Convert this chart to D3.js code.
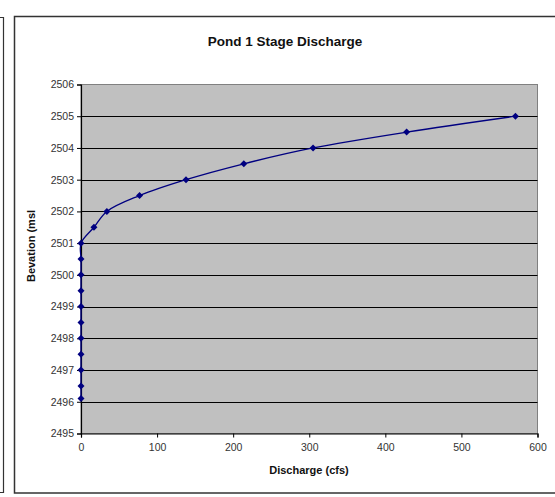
<!DOCTYPE html>
<html><head><meta charset="utf-8">
<script src="https://cdn.jsdelivr.net/npm/d3@7"></script>
<style>
html,body{margin:0;padding:0;background:#fff;}
svg{display:block;}
</style></head>
<body>
<svg id="c" width="555" height="497"></svg>
<script>
const discharge = [0, 0, 0, 0, 0, 0, 0, 0, 0, 0, 0, 17, 34, 77, 138, 214, 305, 428, 571];
const elevation = [2496.1, 2496.5, 2497, 2497.5, 2498, 2498.5, 2499, 2499.5, 2500, 2500.5, 2501, 2501.5, 2502, 2502.5, 2503, 2503.5, 2504, 2504.5, 2505];
const xTicks = [0, 100, 200, 300, 400, 500, 600];
const yTicks = [2495, 2496, 2497, 2498, 2499, 2500, 2501, 2502, 2503, 2504, 2505, 2506];
const title = "Pond 1 Stage Discharge";
const xTitle = "Discharge (cfs)";
const yTitle = "Bevation (msl";

const svg = d3.select("#c");
const font = "Arial, 'Liberation Sans', sans-serif";

// outer frames
svg.append("path").attr("d","M0,17.5H3.5V492.5H0").attr("fill","none").attr("stroke","#333").attr("stroke-width",1.2);
svg.append("rect").attr("x",14.5).attr("y",16.5).attr("width",545).attr("height",476.5)
  .attr("fill","#fff").attr("stroke","#333").attr("stroke-width",1.5);

const L=81, R=537.5, T=84.5, B=433.5;
const x = d3.scaleLinear().domain([0,600]).range([L,R]);
const y = d3.scaleLinear().domain([2495,2506]).range([B,T]);

svg.append("rect").attr("x",L).attr("y",T).attr("width",R-L).attr("height",B-T)
  .attr("fill","#c0c0c0").attr("stroke","#808080").attr("stroke-width",1);

// gridlines
svg.append("g").selectAll("line").data(yTicks.slice(1,-1)).join("line")
  .attr("x1",L).attr("x2",R).attr("y1",d=>Math.round(y(d))+0.5).attr("y2",d=>Math.round(y(d))+0.5)
  .attr("stroke","#000").attr("stroke-width",1);

// axes
const yAxis = svg.append("g").attr("transform",`translate(${L},0)`)
  .call(d3.axisLeft(y).tickValues(yTicks).tickSize(4).tickFormat(d3.format("d")));
const xAxis = svg.append("g").attr("transform",`translate(0,${B})`)
  .call(d3.axisBottom(x).tickValues(xTicks).tickSize(4).tickFormat(d3.format("d")));
[yAxis,xAxis].forEach(a=>{
  a.select(".domain").attr("stroke","#000").attr("stroke-width",1.2);
  a.selectAll(".tick line").attr("stroke","#000");
  a.selectAll("text").attr("font-family",font).attr("font-size",10.5).attr("fill","#333");
});
yAxis.selectAll("text").attr("x",-7);
xAxis.selectAll("text").attr("y",10);

// line
const pts = discharge.map((d,i)=>[d, elevation[i]]);
svg.append("path").datum(pts)
  .attr("d", d3.line().x(d=>x(d[0])).y(d=>y(d[1])).curve(d3.curveCatmullRom.alpha(0.5)))
  .attr("fill","none").attr("stroke","#000080").attr("stroke-width",1.3);
svg.append("g").selectAll("path").data(pts).join("path")
  .attr("transform",d=>`translate(${x(d[0])},${y(d[1])})`)
  .attr("d","M0,-3.5L3.5,0L0,3.5L-3.5,0Z").attr("fill","#000080");

// titles
svg.append("text").attr("x",285).attr("y",46).attr("text-anchor","middle")
  .attr("font-family",font).attr("font-weight","bold").attr("font-size",13.5).attr("fill","#111").text(title);
svg.append("text").attr("x",309).attr("y",474).attr("text-anchor","middle")
  .attr("font-family",font).attr("font-weight","bold").attr("font-size",11).attr("fill","#111").text(xTitle);
svg.append("text").attr("transform","translate(35,246) rotate(-90)").attr("text-anchor","middle")
  .attr("font-family",font).attr("font-weight","bold").attr("font-size",11).attr("fill","#111").text(yTitle);
</script>
</body></html>
